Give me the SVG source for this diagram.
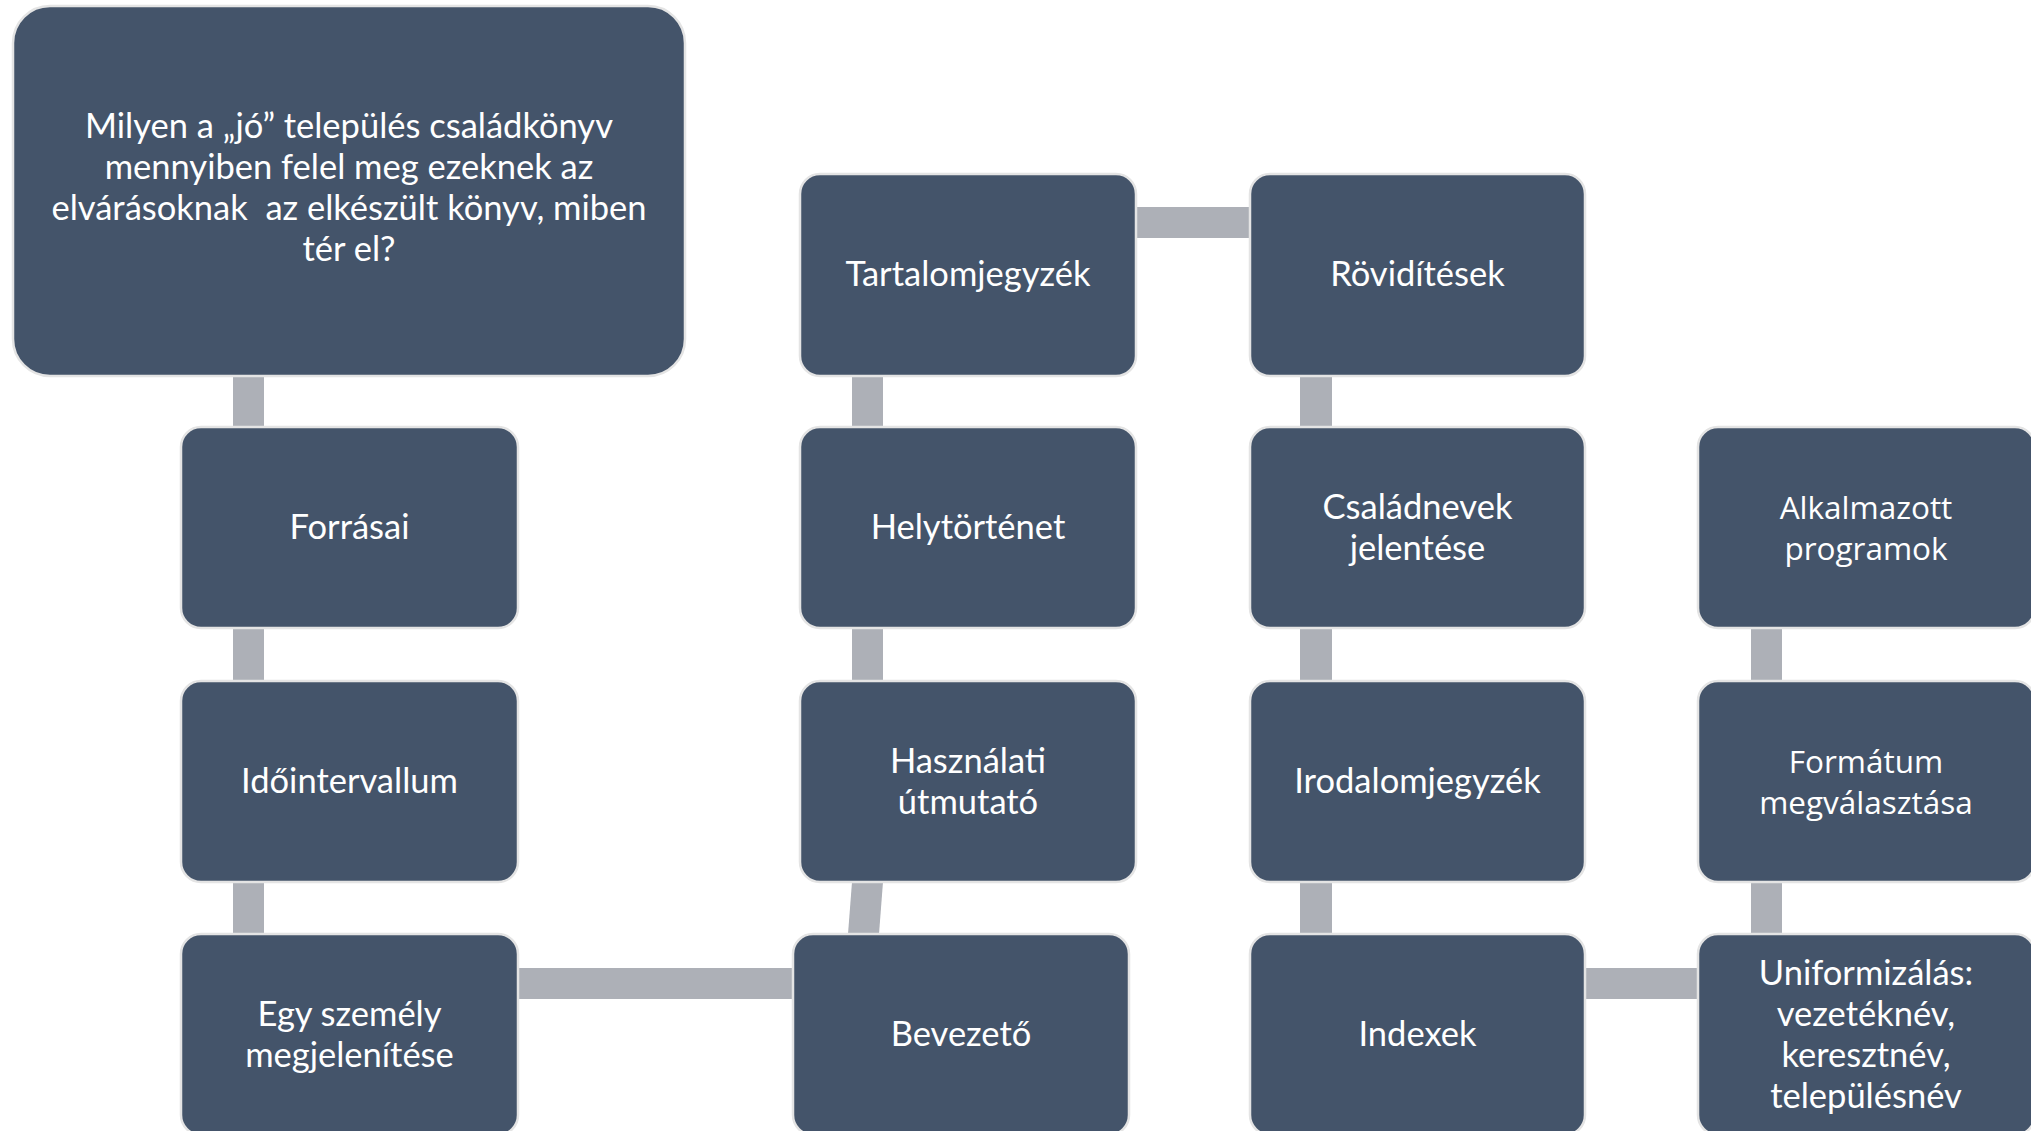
<svg xmlns="http://www.w3.org/2000/svg" width="2031" height="1131" viewBox="0 0 2031 1131">
<style>
.n{fill:#44546a;stroke:#e4e4e4;stroke-width:2.5}
.c{fill:#adb0b7}
.t{font-family:Lato,"Liberation Sans",sans-serif;font-size:34.5px;fill:#ffffff;text-anchor:middle;white-space:pre}
.s{font-family:"Open Sans","Noto Sans",sans-serif;font-size:31.5px;fill:#ffffff;text-anchor:middle}
</style>
<rect width="2031" height="1131" fill="#ffffff"/>
<g id="connectors">
<rect class="c" x="233" y="376" width="31" height="51"/>
<rect class="c" x="233" y="628" width="31" height="53"/>
<rect class="c" x="233" y="882" width="31" height="52"/>
<rect class="c" x="518" y="968" width="275" height="31"/>
<rect class="c" x="852" y="376" width="31" height="51"/>
<rect class="c" x="852" y="628" width="31" height="53"/>
<polygon class="c" points="852,882 883,882 879,934 848,934"/>
<rect class="c" x="1136" y="207" width="114" height="31"/>
<rect class="c" x="1300" y="376" width="32" height="51"/>
<rect class="c" x="1300" y="628" width="32" height="53"/>
<rect class="c" x="1300" y="882" width="32" height="52"/>
<rect class="c" x="1585" y="968" width="113" height="31"/>
<rect class="c" x="1751" y="628" width="31" height="53"/>
<rect class="c" x="1751" y="882" width="31" height="52"/>
</g>
<g id="n-question">
<rect class="n" x="13" y="6" width="672" height="370" rx="37"/>
<text class="t" xml:space="preserve"><tspan x="349" y="138">Milyen a „jó” település családkönyv</tspan><tspan x="349" y="179">mennyiben felel meg ezeknek az</tspan><tspan x="349" y="220">elvárásoknak  az elkészült könyv, miben</tspan><tspan x="349" y="261">tér el?</tspan></text>
</g>
<g id="n-forrasai">
<rect class="n" x="181" y="427" width="337" height="201" rx="20"/>
<text class="t" x="349.5" y="539">Forrásai</text>
</g>
<g id="n-idointervallum">
<rect class="n" x="181" y="681" width="337" height="201" rx="20"/>
<text class="t" x="349.5" y="793">Időintervallum</text>
</g>
<g id="n-egyszemely">
<rect class="n" x="181" y="934" width="337" height="201" rx="20"/>
<text class="t"><tspan x="349.5" y="1026">Egy személy</tspan><tspan x="349.5" y="1067">megjelenítése</tspan></text>
</g>
<g id="n-tartalomjegyzek">
<rect class="n" x="800" y="174" width="336" height="202" rx="20"/>
<text class="t" x="968" y="286">Tartalomjegyzék</text>
</g>
<g id="n-helytortenet">
<rect class="n" x="800" y="427" width="336" height="201" rx="20"/>
<text class="t" x="968" y="539">Helytörténet</text>
</g>
<g id="n-hasznalati">
<rect class="n" x="800" y="681" width="336" height="201" rx="20"/>
<text class="t"><tspan x="968" y="773">Használati</tspan><tspan x="968" y="814">útmutató</tspan></text>
</g>
<g id="n-bevezeto">
<rect class="n" x="793" y="934" width="336" height="201" rx="20"/>
<text class="t" x="961" y="1046">Bevezető</text>
</g>
<g id="n-rovidites">
<rect class="n" x="1250" y="174" width="335" height="202" rx="20"/>
<text class="t" x="1417.5" y="286">Rövidítések</text>
</g>
<g id="n-csaladnevek">
<rect class="n" x="1250" y="427" width="335" height="201" rx="20"/>
<text class="t"><tspan x="1417.5" y="519">Családnevek</tspan><tspan x="1417.5" y="560">jelentése</tspan></text>
</g>
<g id="n-irodalomjegyzek">
<rect class="n" x="1250" y="681" width="335" height="201" rx="20"/>
<text class="t" x="1417.5" y="793">Irodalomjegyzék</text>
</g>
<g id="n-indexek">
<rect class="n" x="1250" y="934" width="335" height="201" rx="20"/>
<text class="t" x="1417.5" y="1046">Indexek</text>
</g>
<g id="n-alkalmazott">
<rect class="n" x="1698" y="427" width="337" height="201" rx="20"/>
<text class="s"><tspan x="1866" y="519">Alkalmazott</tspan><tspan x="1866" y="560">programok</tspan></text>
</g>
<g id="n-formatum">
<rect class="n" x="1698" y="681" width="337" height="201" rx="20"/>
<text class="s"><tspan x="1866" y="773">Formátum</tspan><tspan x="1866" y="814">megválasztása</tspan></text>
</g>
<g id="n-uniformizalas">
<rect class="n" x="1698" y="934" width="337" height="201" rx="20"/>
<text class="t"><tspan x="1866" y="985">Uniformizálás:</tspan><tspan x="1866" y="1026">vezetéknév,</tspan><tspan x="1866" y="1067">keresztnév,</tspan><tspan x="1866" y="1108">településnév</tspan></text>
</g>
</svg>
